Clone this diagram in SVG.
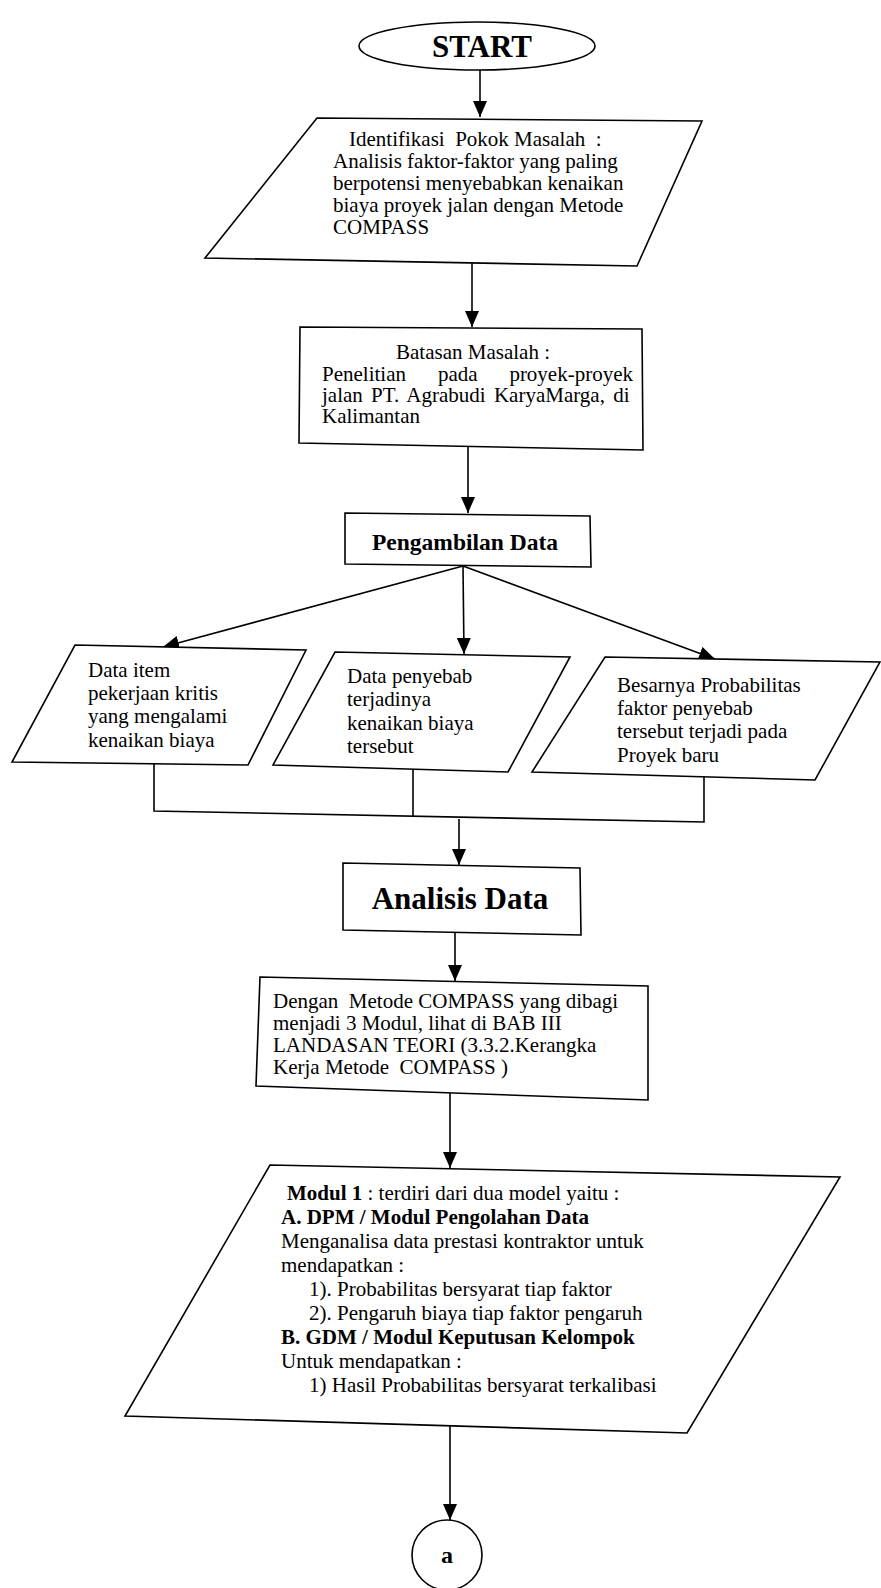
<svg xmlns="http://www.w3.org/2000/svg" width="881" height="1588" viewBox="0 0 881 1588">
  <style>
    .ln{fill:none;stroke:#000;stroke-width:1.6}
    .sh{fill:#fff;stroke:#000;stroke-width:1.6;stroke-linejoin:miter}
    .t{font-family:"Liberation Serif","Times New Roman",Times,serif;font-size:21px;fill:#000}
    .b{font-weight:bold}
    .c{text-anchor:middle}
    .big{font-size:31px}
    .mid{font-size:23.5px}
    .lbl{font-size:24px}
  </style>
  <defs>
    <marker id="ah" markerUnits="userSpaceOnUse" markerWidth="16" markerHeight="14" refX="16" refY="7" orient="auto">
      <path d="M0,0 L16,7 L0,14 z" fill="#000"/>
    </marker>
  </defs>
  <rect width="881" height="1588" fill="#fff"/>

  <!-- flow lines -->
  <g id="connectors">
    <path class="ln" d="M480,70 V117" marker-end="url(#ah)"/>
    <path class="ln" d="M472,262 V327" marker-end="url(#ah)"/>
    <path class="ln" d="M468,447 V513" marker-end="url(#ah)"/>
    <path class="ln" d="M463,566 L163,647" marker-end="url(#ah)"/>
    <path class="ln" d="M463,566 L464,654" marker-end="url(#ah)"/>
    <path class="ln" d="M463,566 L715,659" marker-end="url(#ah)"/>
    <path class="ln" d="M154,764 V811 L704,822 V777"/>
    <path class="ln" d="M413,769 V816"/>
    <path class="ln" d="M459,819 V865" marker-end="url(#ah)"/>
    <path class="ln" d="M455,933 V981" marker-end="url(#ah)"/>
    <path class="ln" d="M450,1093 V1168" marker-end="url(#ah)"/>
    <path class="ln" d="M450,1426 V1520" marker-end="url(#ah)"/>
  </g>

  <g id="start">
    <ellipse class="sh" cx="477" cy="46" rx="118" ry="24"/>
    <text class="t b c big" x="482" y="57">START</text>
  </g>

  <g id="identifikasi">
    <polygon class="sh" points="317,118 702,121 637,266 205,258"/>
    <text class="t">
      <tspan x="349" y="146" xml:space="preserve">Identifikasi  Pokok Masalah  :</tspan>
      <tspan x="333" y="168">Analisis faktor-faktor yang paling</tspan>
      <tspan x="333" y="190">berpotensi menyebabkan kenaikan</tspan>
      <tspan x="333" y="212">biaya proyek jalan dengan Metode</tspan>
      <tspan x="333" y="234">COMPASS</tspan>
    </text>
  </g>

  <g id="batasan">
    <polygon class="sh" points="300,327 642,329 643,450 299,443"/>
    <text class="t c" x="473" y="359">Batasan Masalah :</text>
    <text class="t" x="322" y="381">Penelitian</text>
    <text class="t" x="438" y="381">pada</text>
    <text class="t" x="633" y="381" text-anchor="end">proyek-proyek</text>
    <text class="t" x="322" y="402" word-spacing="3">jalan PT. Agrabudi KaryaMarga, di</text>
    <text class="t" x="322" y="423">Kalimantan</text>
  </g>

  <g id="pengambilan">
    <polygon class="sh" points="345,513 590,516 591,567 345,564"/>
    <text class="t b c mid" x="465" y="550">Pengambilan Data</text>
  </g>

  <g id="data-item">
    <polygon class="sh" points="75,645 306,650 248,765 12,762"/>
    <text class="t">
      <tspan x="88" y="677">Data item</tspan>
      <tspan x="88" y="700">pekerjaan kritis</tspan>
      <tspan x="88" y="723">yang mengalami</tspan>
      <tspan x="88" y="747">kenaikan biaya</tspan>
    </text>
  </g>

  <g id="data-penyebab">
    <polygon class="sh" points="335,652 570,657 508,772 273,765"/>
    <text class="t">
      <tspan x="347" y="683">Data penyebab</tspan>
      <tspan x="347" y="706">terjadinya</tspan>
      <tspan x="347" y="730">kenaikan biaya</tspan>
      <tspan x="347" y="753">tersebut</tspan>
    </text>
  </g>

  <g id="probabilitas">
    <polygon class="sh" points="605,657 880,662 815,780 532,772"/>
    <text class="t">
      <tspan x="617" y="692">Besarnya Probabilitas</tspan>
      <tspan x="617" y="715">faktor penyebab</tspan>
      <tspan x="617" y="738">tersebut terjadi pada</tspan>
      <tspan x="617" y="762">Proyek baru</tspan>
    </text>
  </g>

  <g id="analisis">
    <polygon class="sh" points="343,863 580,868 581,935 343,930"/>
    <text class="t b c big" x="460" y="909">Analisis Data</text>
  </g>

  <g id="metode">
    <polygon class="sh" points="260,977 648,986 648,1100 256,1086"/>
    <text class="t">
      <tspan x="273" y="1008" xml:space="preserve">Dengan  Metode COMPASS yang dibagi</tspan>
      <tspan x="273" y="1030">menjadi 3 Modul, lihat di BAB III</tspan>
      <tspan x="273" y="1052">LANDASAN TEORI (3.3.2.Kerangka</tspan>
      <tspan x="273" y="1074" xml:space="preserve">Kerja Metode  COMPASS )</tspan>
    </text>
  </g>

  <g id="modul1">
    <polygon class="sh" points="270,1165 840,1177 687,1433 125,1416"/>
    <text class="t">
      <tspan x="287" y="1200"><tspan class="b">Modul 1</tspan> : terdiri dari dua model yaitu :</tspan>
      <tspan x="281" y="1224" class="b">A. DPM / Modul Pengolahan Data</tspan>
      <tspan x="281" y="1248">Menganalisa data prestasi kontraktor untuk</tspan>
      <tspan x="281" y="1272">mendapatkan :</tspan>
      <tspan x="309" y="1296">1). Probabilitas bersyarat tiap faktor</tspan>
      <tspan x="309" y="1320">2). Pengaruh biaya tiap faktor pengaruh</tspan>
      <tspan x="281" y="1344" class="b">B. GDM / Modul Keputusan Kelompok</tspan>
      <tspan x="281" y="1368">Untuk mendapatkan :</tspan>
      <tspan x="309" y="1392">1) Hasil Probabilitas bersyarat terkalibasi</tspan>
    </text>
  </g>

  <g id="connector-a">
    <circle class="sh" cx="447" cy="1555" r="35"/>
    <text class="t b c lbl" x="447" y="1563">a</text>
  </g>
</svg>
